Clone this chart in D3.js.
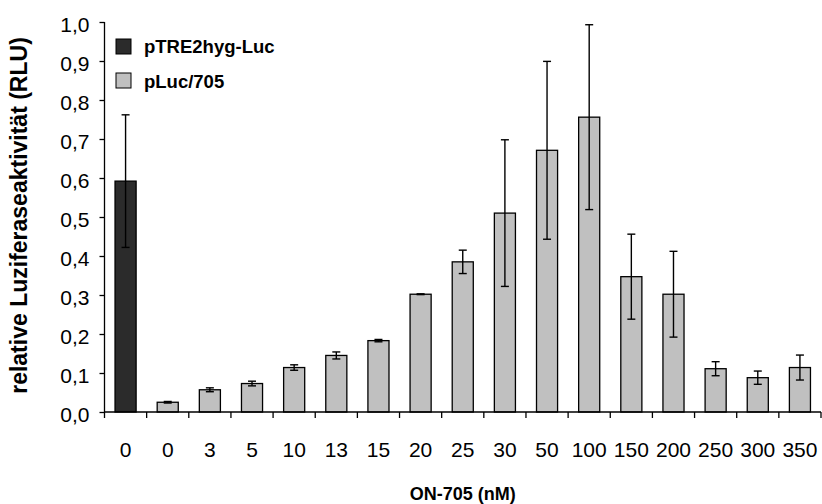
<!DOCTYPE html>
<html>
<head>
<meta charset="utf-8">
<script src="https://cdn.jsdelivr.net/npm/d3@7"></script>
<style>
  html, body { margin: 0; padding: 0; background: #fff; }
  text { font-family: "Liberation Sans", Arial, sans-serif; fill: #000; }
</style>
</head>
<body>
<svg id="chart" width="822" height="504"></svg>
<script>
const labels = ["0","0","3","5","10","13","15","20","25","30","50","100","150","200","250","300","350"];
const seriesNames = ["pTRE2hyg-Luc", "pLuc/705"];
const seriesOf = [0,1,1,1,1,1,1,1,1,1,1,1,1,1,1,1,1];
const values = [0.592, 0.025, 0.057, 0.073, 0.114, 0.145, 0.183, 0.302, 0.385, 0.510, 0.671, 0.756, 0.347, 0.302, 0.111, 0.088, 0.114];
const errors = [0.170, 0.002, 0.005, 0.006, 0.007, 0.009, 0.003, 0.001, 0.030, 0.188, 0.228, 0.237, 0.109, 0.110, 0.018, 0.017, 0.032];
const yTicks = [0,0.1,0.2,0.3,0.4,0.5,0.6,0.7,0.8,0.9,1.0];
const xTitle = "ON-705 (nM)";
const yTitle = "relative Luziferaseaktivität (RLU)";

const colors = ["#2b2b2b", "#c0c0c0"];
const svg = d3.select("#chart");
const mLeft = 104.5, mRight = 821, mTop = 22, mBottom = 412;

const x = d3.scaleBand().domain(d3.range(labels.length)).range([mLeft, mRight]).paddingInner(0.5).paddingOuter(0.25);
const y = d3.scaleLinear().domain([0, 1]).range([mBottom, mTop]);

// bars
svg.append("g").selectAll("rect").data(values).join("rect")
  .attr("x", (d,i) => x(i))
  .attr("y", d => y(d))
  .attr("width", x.bandwidth())
  .attr("height", d => y(0) - y(d))
  .attr("fill", (d,i) => colors[seriesOf[i]])
  .attr("stroke", "#000")
  .attr("stroke-width", 1.3);

// error bars
const eg = svg.append("g").attr("stroke", "#000").attr("stroke-width", 1.4);
values.forEach((v, i) => {
  const cx = x(i) + x.bandwidth()/2;
  const hi = y(v + errors[i]), lo = y(v - errors[i]);
  eg.append("line").attr("x1", cx).attr("x2", cx).attr("y1", hi).attr("y2", lo);
  eg.append("line").attr("x1", cx-4).attr("x2", cx+4).attr("y1", hi).attr("y2", hi);
  eg.append("line").attr("x1", cx-4).attr("x2", cx+4).attr("y1", lo).attr("y2", lo);
});

// y axis
const yAxis = d3.axisLeft(y).tickValues(yTicks).tickSize(5).tickPadding(10)
  .tickFormat(d => d3.format(".1f")(d).replace(".", ","));
const gy = svg.append("g").attr("transform", `translate(${mLeft},0)`).call(yAxis);
gy.selectAll("text").style("font-size", "21px").attr("dy", "0.45em")
  .attr("font-family", "Liberation Sans, Arial, sans-serif");
gy.select(".domain").attr("d", `M0,${mTop}V${mBottom}`).attr("stroke-width", 1.3);
gy.selectAll(".tick line").attr("stroke-width", 1.3);

// x axis (ticks at category boundaries)
const gx = svg.append("g").attr("transform", `translate(0,${mBottom})`);
gx.append("line").attr("x1", mLeft).attr("x2", mRight).attr("stroke", "#000").attr("stroke-width", 1.3);
const step = x.step();
const bounds = d3.range(labels.length + 1).map(i => mLeft + i * step);
gx.selectAll("line.tk").data(bounds).join("line").attr("class", "tk")
  .attr("x1", d => d).attr("x2", d => d).attr("y1", 0).attr("y2", 6)
  .attr("stroke", "#000").attr("stroke-width", 1.3);
gx.selectAll("text").data(labels).join("text")
  .attr("x", (d,i) => x(i) + x.bandwidth()/2)
  .attr("y", 44.5)
  .attr("text-anchor", "middle")
  .style("font-size", "21px")
  .text(d => d);

// titles
svg.append("text").attr("x", (mLeft + mRight)/2).attr("y", 500).attr("text-anchor", "middle")
  .style("font-size", "18px").style("font-weight", "bold").text(xTitle);
svg.append("text").attr("transform", "translate(27,215.5) rotate(-90)").attr("text-anchor", "middle")
  .style("font-size", "23px").style("font-weight", "bold").text(yTitle);

// legend
const lg = svg.append("g");
seriesNames.forEach((name, i) => {
  lg.append("rect").attr("x", 116).attr("y", 39 + i*34).attr("width", 15).attr("height", 15)
    .attr("fill", colors[i]).attr("stroke", "#000").attr("stroke-width", 1);
  lg.append("text").attr("x", 144).attr("y", 53 + i*34.5)
    .style("font-size", "18.5px").style("font-weight", "bold").text(name);
});
</script>
</body>
</html>
